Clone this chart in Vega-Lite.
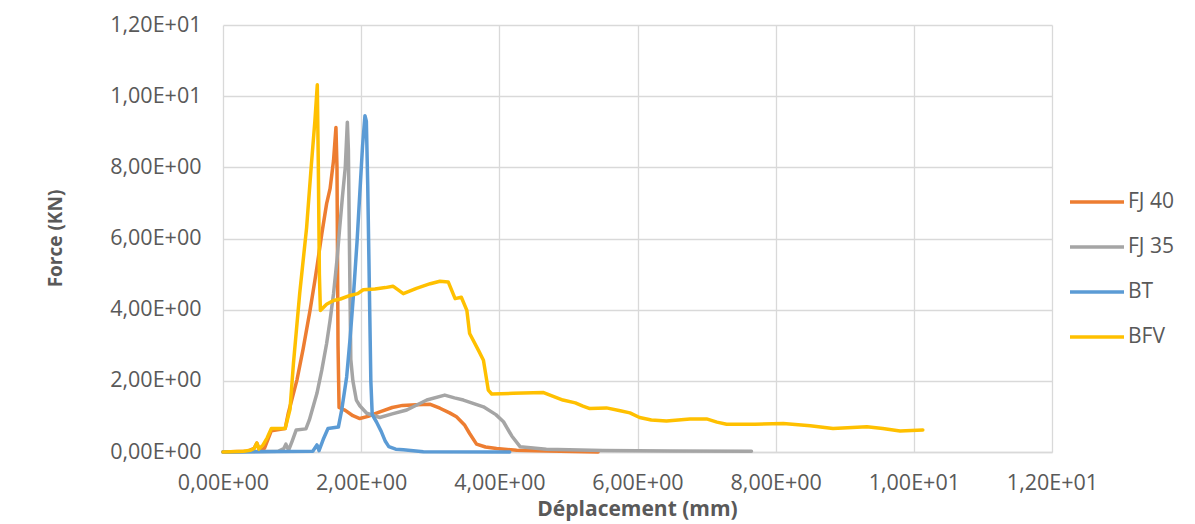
{
  "$schema": "https://vega.github.io/schema/vega-lite/v6.json",
  "width": 829,
  "height": 427,
  "autosize": {"type": "none"},
  "padding": {"left": 223, "top": 25, "right": 143, "bottom": 72},
  "background": "white",
  "config": {
    "view": {"stroke": null},
    "font": "Open Sans",
    "axis": {
      "labelFont": "Open Sans",
      "labelFontSize": 21.5,
      "labelColor": "#595959",
      "titleFont": "Open Sans",
      "titleFontWeight": "bold",
      "titleColor": "#595959",
      "gridColor": "#d9d9d9",
      "gridWidth": 1.3,
      "ticks": false,
      "labelFlush": false
    },
    "legend": {
      "labelFont": "Open Sans",
      "labelFontSize": 21,
      "labelColor": "#595959"
    }
  },
  "data": {"values": [
    {"s":"FJ 40","x":0,"y":0},{"s":"FJ 40","x":0.35,"y":0.02},{"s":"FJ 40","x":0.45,"y":0.1},{"s":"FJ 40","x":0.49,"y":0.25},{"s":"FJ 40","x":0.53,"y":0.05},{"s":"FJ 40","x":0.6,"y":0.1},{"s":"FJ 40","x":0.7,"y":0.6},{"s":"FJ 40","x":0.9,"y":0.66},{"s":"FJ 40","x":0.945,"y":1.09},{"s":"FJ 40","x":1.07,"y":2.02},{"s":"FJ 40","x":1.16,"y":2.9},{"s":"FJ 40","x":1.26,"y":3.98},{"s":"FJ 40","x":1.33,"y":4.82},{"s":"FJ 40","x":1.36,"y":5.2},{"s":"FJ 40","x":1.43,"y":6.13},{"s":"FJ 40","x":1.5,"y":6.98},{"s":"FJ 40","x":1.55,"y":7.4},{"s":"FJ 40","x":1.6,"y":8.19},{"s":"FJ 40","x":1.635,"y":9.12},{"s":"FJ 40","x":1.65,"y":8.0},{"s":"FJ 40","x":1.665,"y":3.0},{"s":"FJ 40","x":1.68,"y":1.25},{"s":"FJ 40","x":1.77,"y":1.17},{"s":"FJ 40","x":1.88,"y":1.02},{"s":"FJ 40","x":1.98,"y":0.94},{"s":"FJ 40","x":2.1,"y":1.0},{"s":"FJ 40","x":2.27,"y":1.13},{"s":"FJ 40","x":2.45,"y":1.25},{"s":"FJ 40","x":2.6,"y":1.31},{"s":"FJ 40","x":2.8,"y":1.33},{"s":"FJ 40","x":3.0,"y":1.34},{"s":"FJ 40","x":3.14,"y":1.23},{"s":"FJ 40","x":3.28,"y":1.1},{"s":"FJ 40","x":3.38,"y":0.99},{"s":"FJ 40","x":3.5,"y":0.75},{"s":"FJ 40","x":3.57,"y":0.52},{"s":"FJ 40","x":3.67,"y":0.22},{"s":"FJ 40","x":3.8,"y":0.14},{"s":"FJ 40","x":3.96,"y":0.1},{"s":"FJ 40","x":4.25,"y":0.05},{"s":"FJ 40","x":4.7,"y":0.03},{"s":"FJ 40","x":5.43,"y":0.0},
    {"s":"FJ 35","x":0,"y":0},{"s":"FJ 35","x":0.8,"y":0.02},{"s":"FJ 35","x":0.88,"y":0.1},{"s":"FJ 35","x":0.91,"y":0.22},{"s":"FJ 35","x":0.95,"y":0.05},{"s":"FJ 35","x":1.0,"y":0.3},{"s":"FJ 35","x":1.06,"y":0.62},{"s":"FJ 35","x":1.2,"y":0.65},{"s":"FJ 35","x":1.25,"y":0.9},{"s":"FJ 35","x":1.36,"y":1.65},{"s":"FJ 35","x":1.43,"y":2.3},{"s":"FJ 35","x":1.5,"y":3.05},{"s":"FJ 35","x":1.55,"y":3.7},{"s":"FJ 35","x":1.6,"y":4.45},{"s":"FJ 35","x":1.65,"y":5.4},{"s":"FJ 35","x":1.69,"y":6.32},{"s":"FJ 35","x":1.73,"y":7.2},{"s":"FJ 35","x":1.77,"y":8.0},{"s":"FJ 35","x":1.8,"y":9.27},{"s":"FJ 35","x":1.815,"y":8.5},{"s":"FJ 35","x":1.835,"y":5.0},{"s":"FJ 35","x":1.85,"y":2.6},{"s":"FJ 35","x":1.88,"y":2.0},{"s":"FJ 35","x":1.93,"y":1.46},{"s":"FJ 35","x":1.98,"y":1.3},{"s":"FJ 35","x":2.08,"y":1.09},{"s":"FJ 35","x":2.27,"y":0.97},{"s":"FJ 35","x":2.45,"y":1.07},{"s":"FJ 35","x":2.66,"y":1.18},{"s":"FJ 35","x":2.95,"y":1.46},{"s":"FJ 35","x":3.21,"y":1.6},{"s":"FJ 35","x":3.35,"y":1.52},{"s":"FJ 35","x":3.48,"y":1.46},{"s":"FJ 35","x":3.77,"y":1.27},{"s":"FJ 35","x":3.95,"y":1.05},{"s":"FJ 35","x":4.06,"y":0.85},{"s":"FJ 35","x":4.18,"y":0.45},{"s":"FJ 35","x":4.3,"y":0.15},{"s":"FJ 35","x":4.68,"y":0.08},{"s":"FJ 35","x":5.5,"y":0.04},{"s":"FJ 35","x":6.5,"y":0.03},{"s":"FJ 35","x":7.65,"y":0.02},
    {"s":"BT","x":0,"y":0},{"s":"BT","x":1.3,"y":0.02},{"s":"BT","x":1.36,"y":0.2},{"s":"BT","x":1.39,"y":0.04},{"s":"BT","x":1.45,"y":0.35},{"s":"BT","x":1.52,"y":0.66},{"s":"BT","x":1.67,"y":0.7},{"s":"BT","x":1.72,"y":1.2},{"s":"BT","x":1.79,"y":2.11},{"s":"BT","x":1.84,"y":3.2},{"s":"BT","x":1.89,"y":4.45},{"s":"BT","x":1.94,"y":5.9},{"s":"BT","x":1.98,"y":7.26},{"s":"BT","x":2.02,"y":8.6},{"s":"BT","x":2.055,"y":9.45},{"s":"BT","x":2.075,"y":9.3},{"s":"BT","x":2.095,"y":7.5},{"s":"BT","x":2.12,"y":4.45},{"s":"BT","x":2.14,"y":2.0},{"s":"BT","x":2.16,"y":1.05},{"s":"BT","x":2.22,"y":0.85},{"s":"BT","x":2.29,"y":0.58},{"s":"BT","x":2.35,"y":0.3},{"s":"BT","x":2.4,"y":0.15},{"s":"BT","x":2.5,"y":0.08},{"s":"BT","x":2.61,"y":0.06},{"s":"BT","x":2.9,"y":0.01},{"s":"BT","x":4.15,"y":0.0},
    {"s":"BFV","x":0,"y":0},{"s":"BFV","x":0.3,"y":0.02},{"s":"BFV","x":0.4,"y":0.05},{"s":"BFV","x":0.45,"y":0.1},{"s":"BFV","x":0.49,"y":0.25},{"s":"BFV","x":0.52,"y":0.08},{"s":"BFV","x":0.58,"y":0.2},{"s":"BFV","x":0.64,"y":0.4},{"s":"BFV","x":0.7,"y":0.66},{"s":"BFV","x":0.9,"y":0.66},{"s":"BFV","x":0.97,"y":1.2},{"s":"BFV","x":1.02,"y":2.5},{"s":"BFV","x":1.11,"y":4.45},{"s":"BFV","x":1.21,"y":6.3},{"s":"BFV","x":1.28,"y":8.1},{"s":"BFV","x":1.33,"y":9.3},{"s":"BFV","x":1.365,"y":10.32},{"s":"BFV","x":1.38,"y":8.0},{"s":"BFV","x":1.395,"y":5.0},{"s":"BFV","x":1.41,"y":3.98},{"s":"BFV","x":1.5,"y":4.15},{"s":"BFV","x":1.6,"y":4.26},{"s":"BFV","x":1.7,"y":4.3},{"s":"BFV","x":1.84,"y":4.4},{"s":"BFV","x":1.95,"y":4.45},{"s":"BFV","x":2.03,"y":4.56},{"s":"BFV","x":2.2,"y":4.58},{"s":"BFV","x":2.35,"y":4.62},{"s":"BFV","x":2.46,"y":4.66},{"s":"BFV","x":2.61,"y":4.45},{"s":"BFV","x":2.8,"y":4.6},{"s":"BFV","x":3.0,"y":4.73},{"s":"BFV","x":3.14,"y":4.8},{"s":"BFV","x":3.26,"y":4.78},{"s":"BFV","x":3.36,"y":4.31},{"s":"BFV","x":3.45,"y":4.35},{"s":"BFV","x":3.53,"y":3.98},{"s":"BFV","x":3.57,"y":3.33},{"s":"BFV","x":3.7,"y":2.85},{"s":"BFV","x":3.77,"y":2.58},{"s":"BFV","x":3.84,"y":1.74},{"s":"BFV","x":3.89,"y":1.63},{"s":"BFV","x":4.2,"y":1.65},{"s":"BFV","x":4.64,"y":1.67},{"s":"BFV","x":4.92,"y":1.46},{"s":"BFV","x":5.1,"y":1.38},{"s":"BFV","x":5.21,"y":1.29},{"s":"BFV","x":5.31,"y":1.22},{"s":"BFV","x":5.55,"y":1.24},{"s":"BFV","x":5.75,"y":1.16},{"s":"BFV","x":5.89,"y":1.1},{"s":"BFV","x":6.03,"y":0.97},{"s":"BFV","x":6.2,"y":0.9},{"s":"BFV","x":6.42,"y":0.87},{"s":"BFV","x":6.76,"y":0.93},{"s":"BFV","x":7.0,"y":0.93},{"s":"BFV","x":7.15,"y":0.84},{"s":"BFV","x":7.29,"y":0.78},{"s":"BFV","x":7.7,"y":0.78},{"s":"BFV","x":8.11,"y":0.8},{"s":"BFV","x":8.5,"y":0.74},{"s":"BFV","x":8.83,"y":0.66},{"s":"BFV","x":9.32,"y":0.71},{"s":"BFV","x":9.55,"y":0.66},{"s":"BFV","x":9.8,"y":0.59},{"s":"BFV","x":10.13,"y":0.62}
  ]},
  "mark": {"type": "line", "strokeWidth": 3.5, "strokeJoin": "round", "strokeCap": "round"},
  "encoding": {
    "x": {
      "field": "x", "type": "quantitative",
      "scale": {"domain": [0, 12], "nice": false, "zero": false},
      "axis": {
        "values": [0, 2, 4, 6, 8, 10, 12],
        "title": "Déplacement (mm)",
        "titleFontSize": 21,
        "labelPadding": 20,
        "domainColor": "#d9d9d9",
        "domainWidth": 1.3,
        "labelExpr": "datum.value >= 10 ? replace(format(datum.value / 10, '.2f'), '.', ',') + 'E+01' : replace(format(datum.value, '.2f'), '.', ',') + 'E+00'",
        "titleX": 414,
        "titleY": 57,
        "titleAlign": "center",
        "titleBaseline": "middle"
      }
    },
    "y": {
      "field": "y", "type": "quantitative",
      "scale": {"domain": [0, 12], "nice": false, "zero": false},
      "axis": {
        "values": [0, 2, 4, 6, 8, 10, 12],
        "title": "Force (KN)",
        "titleFontSize": 19,
        "domain": false,
        "labelPadding": 22,
        "labelExpr": "datum.value >= 10 ? replace(format(datum.value / 10, '.2f'), '.', ',') + 'E+01' : replace(format(datum.value, '.2f'), '.', ',') + 'E+00'",
        "titleX": -168,
        "titleY": 213,
        "titleAngle": -90,
        "titleAlign": "center",
        "titleBaseline": "middle"
      }
    },
    "color": {
      "field": "s", "type": "nominal",
      "scale": {"domain": ["FJ 40", "FJ 35", "BT", "BFV"], "range": ["#ED7D31", "#A5A5A5", "#5B9BD5", "#FFC000"]},
      "legend": {
        "title": null,
        "orient": "none",
        "legendX": 845,
        "legendY": 148,
        "symbolType": "stroke",
        "symbolSize": 2916,
        "symbolStrokeWidth": 3.5,
        "labelOffset": 2,
        "rowPadding": 6
      }
    }
  }
}
